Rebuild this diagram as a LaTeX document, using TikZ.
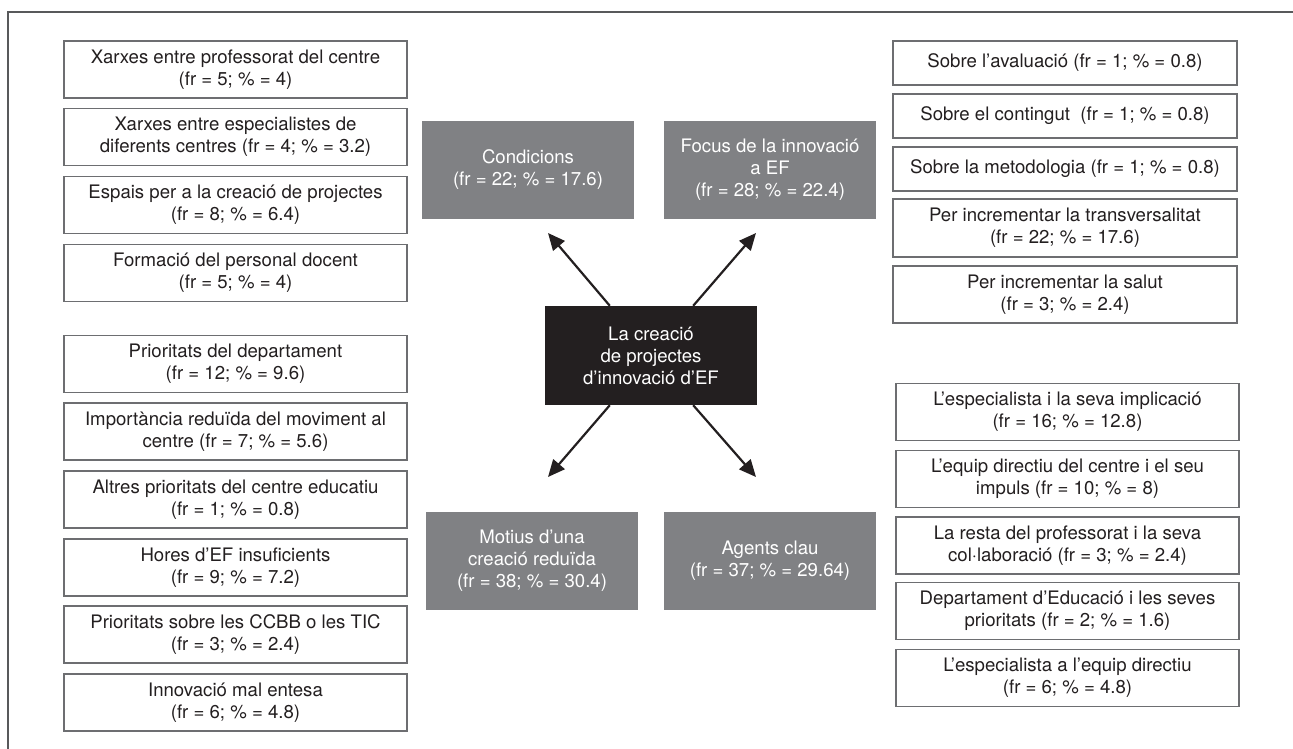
\documentclass[tikz,border=0pt]{standalone}
\usepackage{fontspec}
\setmainfont{TeX Gyre Heros}
\usetikzlibrary{arrows.meta}
\definecolor{txt}{HTML}{231F20}
\definecolor{bord}{HTML}{6D6E71}
\definecolor{gfill}{HTML}{808184}
\definecolor{frame}{HTML}{58595B}
\tikzset{
  wbox/.style={draw=bord, line width=1.3pt, fill=white, text=txt, minimum width=343pt, minimum height=57pt, align=center, inner sep=0pt, font=\fontsize{18.6}{22}\selectfont},
  sbox/.style={wbox, minimum height=44pt},
  gbox/.style={fill=gfill, text=white, minimum width=212pt, minimum height=98pt, align=center, inner sep=0pt, font=\fontsize{18.6}{22}\selectfont},
  cbox/.style={gbox, fill=txt, minimum height=99pt},
  arr/.style={draw=txt, line width=2.2pt, -{Triangle[length=17pt,width=15pt]}},
}
\begin{document}
\begin{tikzpicture}[x=1pt,y=-1pt]
\useasboundingbox (0,0) rectangle (1293,749);
\draw[frame, line width=1.3pt] (8,749) -- (8,12) -- (1293,12);

% left top
\node[wbox] (l1) at (235.5,69.5) {Xarxes entre professorat del centre\\(fr = 5; \% = 4)};
\node[wbox] (l2) at (235.5,137) {Xarxes entre especialistes de\\diferents centres (fr = 4; \% = 3.2)};
\node[wbox] (l3) at (235.5,205) {Espais per a la creació de projectes\\(fr = 8; \% = 6.4)};
\node[wbox] (l4) at (235.5,273) {Formació del personal docent\\(fr = 5; \% = 4)};
% left bottom
\node[wbox] (m1) at (235.5,364) {Prioritats del departament\\(fr = 12; \% = 9.6)};
\node[wbox] (m2) at (235.5,431.5) {Importància reduïda del moviment al\\centre (fr = 7; \% = 5.6)};
\node[wbox] (m3) at (235.5,499.5) {Altres prioritats del centre educatiu\\(fr = 1; \% = 0.8)};
\node[wbox] (m4) at (235.5,567.5) {Hores d’EF insuficients\\(fr = 9; \% = 7.2)};
\node[wbox] (m5) at (235.5,634.5) {Prioritats sobre les CCBB o les TIC\\(fr = 3; \% = 2.4)};
\node[wbox] (m6) at (235.5,702.5) {Innovació mal entesa\\(fr = 6; \% = 4.8)};
% right top
\node[sbox, minimum width=344pt] (r1) at (1065,63) {Sobre l’avaluació (fr = 1; \% = 0.8)};
\node[sbox, minimum width=344pt] (r2) at (1065,116) {Sobre el contingut\ \ (fr = 1; \% = 0.8)};
\node[sbox, minimum width=344pt] (r3) at (1065,169) {Sobre la metodologia (fr = 1; \% = 0.8)};
\node[wbox, minimum width=344pt, minimum height=58pt] (r4) at (1065,228) {Per incrementar la transversalitat\\(fr = 22; \% = 17.6)};
\node[wbox, minimum width=344pt] (r5) at (1065,294.5) {Per incrementar la salut\\(fr = 3; \% = 2.4)};
% right bottom
\node[wbox] (s1) at (1067.5,412) {L’especialista i la seva implicació\\(fr = 16; \% = 12.8)};
\node[wbox] (s2) at (1067.5,479) {L’equip directiu del centre i el seu\\impuls (fr = 10; \% = 8)};
\node[wbox] (s3) at (1067.5,545.5) {La resta del professorat i la seva\\col·laboració (fr = 3; \% = 2.4)};
\node[wbox] (s4) at (1067.5,611) {Departament d’Educació i les seves\\prioritats (fr = 2; \% = 1.6)};
\node[wbox] (s5) at (1067.5,678) {L’especialista a l’equip directiu\\(fr = 6; \% = 4.8)};

% centre
\node[gbox] (cond) at (528,170) {Condicions\\(fr = 22; \% = 17.6)};
\node[gbox] (focus) at (770,170) {Focus de la innovació\\a EF\\(fr = 28; \% = 22.4)};
\node[gbox] (mot) at (532,560.5) {Motius d’una\\creació reduïda\\(fr = 38; \% = 30.4)};
\node[gbox] (ag) at (770,560.5) {Agents clau\\(fr = 37; \% = 29.64)};
\node[cbox] (ctr) at (651,355.5) {La creació\\de projectes\\d’innovació d’EF};

\coordinate (t1) at (548,233);
\coordinate (t2) at (756,233);
\coordinate (t3) at (548,477);
\coordinate (t4) at (756,477);
\draw[arr] (ctr.north west) ++(65,0) -- (t1);
\draw[arr] (ctr.north east) ++(-64,0) -- (t2);
\draw[arr] (ctr.south west) ++(65,0) -- (t3);
\draw[arr] (ctr.south east) ++(-64,0) -- (t4);
\end{tikzpicture}
\end{document}
